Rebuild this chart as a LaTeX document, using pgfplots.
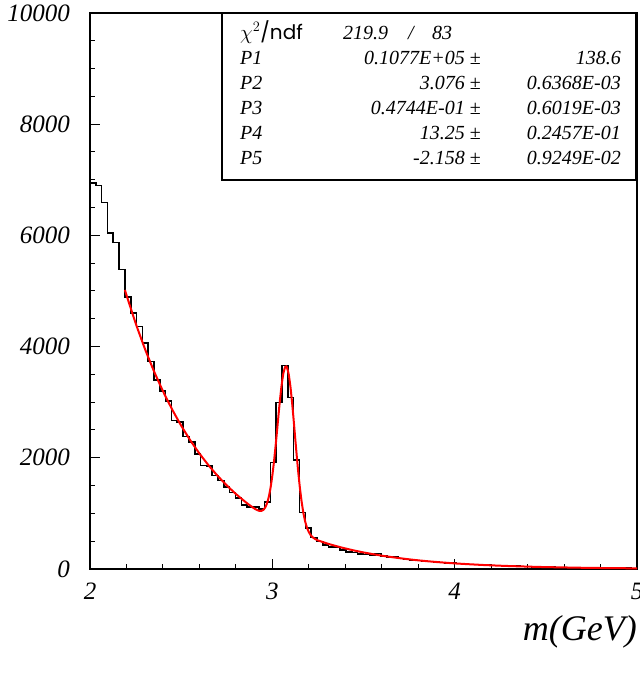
\documentclass[border=0pt]{standalone}
\usepackage{fontspec}
\setmainfont{Liberation Serif}
\newfontfamily\gothic{Poppins}
\usepackage{pgfplots}
\pgfplotsset{compat=1.18}
\usepackage{pgfplotstable}

\pgfplotstableread{
x y
2.0000 6940
2.0319 6900
2.0638 6590
2.0957 6040
2.1277 5870
2.1596 5390
2.1915 4890
2.2234 4600
2.2553 4360
2.2872 4070
2.3191 3735
2.3511 3400
2.3830 3200
2.4149 3020
2.4468 2670
2.4787 2645
2.5106 2380
2.5426 2280
2.5745 2070
2.6064 1865
2.6383 1850
2.6702 1680
2.7021 1590
2.7340 1470
2.7660 1375
2.7979 1272
2.8298 1150
2.8617 1120
2.8936 1110
2.9255 1075
2.9574 1205
2.9894 1912
3.0213 2998
3.0532 3657
3.0851 3088
3.1170 1955
3.1489 1013
3.1809 732
3.2128 563
3.2447 491
3.2766 432
3.3085 395
3.3404 388
3.3723 342
3.4043 305
3.4362 298
3.4681 270
3.5000 262
3.5319 252
3.5638 282
3.5957 232
3.6277 212
3.6596 220
3.6915 186
3.7234 172
3.7553 160
3.7872 152
3.8191 140
3.8511 132
3.8830 126
3.9149 118
3.9468 112
3.9787 104
4.0106 96
4.0426 90
4.0745 84
4.1064 80
4.1383 72
4.1702 70
4.2021 62
4.2340 60
4.2660 57
4.2979 50
4.3298 49
4.3617 44
4.3936 43
4.4255 38
4.4574 37
4.4894 33
4.5213 33
4.5532 29
4.5851 28
4.6170 25
4.6489 25
4.6809 22
4.7128 22
4.7447 19
4.7766 19
4.8085 17
4.8404 16
4.8723 15
4.9043 14
4.9362 13
4.9681 12
5.0000 12
}\histdata

\pgfplotstableread{
x y
2.1915 5018
2.20 4927
2.25 4423
2.30 3970
2.35 3564
2.40 3200
2.45 2873
2.50 2579
2.55 2315
2.60 2078
2.65 1866
2.70 1675
2.75 1504
2.80 1350
2.85 1212
2.875 1149
2.90 1091
2.91 1071
2.92 1055
2.93 1045
2.94 1045
2.95 1062
2.96 1102
2.97 1174
2.98 1289
2.99 1457
3.00 1681
3.01 1960
3.02 2285
3.03 2634
3.04 2979
3.05 3283
3.06 3510
3.07 3631
3.076 3643
3.08 3627
3.09 3498
3.10 3258
3.11 2935
3.12 2563
3.13 2179
3.14 1815
3.15 1494
3.16 1226
3.17 1015
3.18 857
3.19 743
3.20 665
3.21 611
3.22 574
3.23 549
3.24 530
3.25 515
3.30 459
3.35 412
3.40 370
3.45 332
3.50 298
3.55 268
3.60 240
3.65 216
3.70 194
3.75 174
3.80 156
3.85 140
3.90 126
3.95 113
4.00 101
4.05 91
4.10 82
4.15 73
4.20 66
4.25 59
4.30 53
4.35 48
4.40 43
4.45 38
4.50 34
4.55 31
4.60 28
4.65 25
4.70 22
4.75 20
4.80 18
4.85 16
4.90 15
4.95 13
5.00 12
}\fitdata

\begin{document}
\begin{tikzpicture}
\useasboundingbox (0,0) rectangle (639pt,676pt);
\begin{axis}[
  at={(90pt,107pt)}, anchor=south west,
  scale only axis, width=547pt, height=556pt,
  xmin=2, xmax=5, ymin=0, ymax=10000,
  xtick={2,3,4,5}, minor x tick num=4,
  ytick={0,2000,4000,6000,8000,10000}, minor y tick num=3,
  tick align=inside, xtick pos=bottom, ytick pos=left,
  major tick length=10pt, minor tick length=5pt,
  tick style={line width=1pt, black},
  axis line style={line width=1.4pt},
  /pgf/number format/1000 sep={},
  /pgf/number format/assume math mode=true,
  scaled ticks=false,
  ticklabel style={font=\fontsize{25}{25}\selectfont\itshape},
  yticklabel style={anchor=east, inner sep=0pt, xshift=-20pt},
  xticklabel style={anchor=north, inner sep=0pt, yshift=-14pt},
  clip=false,
]
\addplot[const plot, black, line width=1.6pt] table[x=x, y=y] {\histdata};
\addplot[red, line width=2pt, smooth, tension=0.3] table[x=x, y=y] {\fitdata};
\end{axis}
% statistics box
\draw[line width=1.4pt, fill=white] (222pt,496pt) rectangle (636pt,663pt);
\begin{scope}[every node/.style={inner sep=0pt, font=\fontsize{20}{20}\selectfont\itshape}]
\node[anchor=base west] at (240pt,636.7pt) {{\gothic\upshape $\chi^{2}$/ndf}};
\node[anchor=base west] at (343pt,636.7pt) {219.9};
\node[anchor=base west] at (408pt,636.7pt) {/};
\node[anchor=base west] at (432pt,636.7pt) {83};
\node[anchor=base west] at (240pt,611.7pt) {P1};
\node[anchor=base west] at (240pt,586.7pt) {P2};
\node[anchor=base west] at (240pt,561.7pt) {P3};
\node[anchor=base west] at (240pt,536.7pt) {P4};
\node[anchor=base west] at (240pt,511.7pt) {P5};
\node[anchor=base east] at (481pt,611.7pt) {0.1077E+05 {\upshape±}};
\node[anchor=base east] at (481pt,586.7pt) {3.076 {\upshape±}};
\node[anchor=base east] at (481pt,561.7pt) {0.4744E-01 {\upshape±}};
\node[anchor=base east] at (481pt,536.7pt) {13.25 {\upshape±}};
\node[anchor=base east] at (481pt,511.7pt) {-2.158 {\upshape±}};
\node[anchor=base east] at (621pt,611.7pt) {138.6};
\node[anchor=base east] at (621pt,586.7pt) {0.6368E-03};
\node[anchor=base east] at (621pt,561.7pt) {0.6019E-03};
\node[anchor=base east] at (621pt,536.7pt) {0.2457E-01};
\node[anchor=base east] at (621pt,511.7pt) {0.9249E-02};
\end{scope}
\node[anchor=base east, inner sep=0pt, font=\fontsize{36}{36}\selectfont\itshape] at (637pt,35pt) {m(GeV)};
\end{tikzpicture}
\end{document}
